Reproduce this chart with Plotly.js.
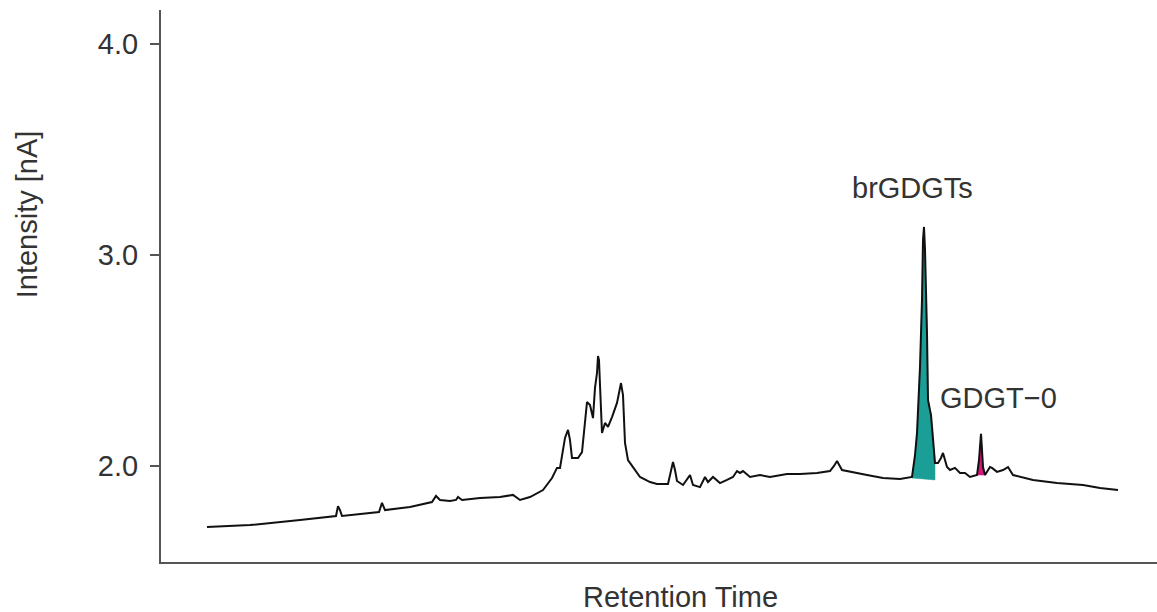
<!DOCTYPE html>
<html>
<head>
<meta charset="utf-8">
<script src="https://cdn.plot.ly/plotly-3.0.1.min.js"></script>
<style>html,body{margin:0;padding:0;background:#fff;}#chart{width:1157px;height:612px;}</style>
</head>
<body>
<div id="chart"></div>
<script>
// Retention time (arbitrary units) and intensity [nA]
var retentionTime = [4.6, 8.9, 13.9, 16.9, 17.5, 17.7, 17.9, 18.1, 19.9, 21.8, 22.1, 22.4, 24.9, 27.1, 27.5, 27.9, 28.9, 29.5, 29.7, 30.1,
  31.9, 33.9, 35.2, 35.9, 36.9, 38.2, 39.1, 39.6, 39.9, 40.2, 40.4, 40.7, 40.9, 41.1, 41.7, 42.1, 42.4, 42.6, 42.9, 43.2,
  43.4, 43.6, 43.7, 43.8, 43.9, 44.1, 44.4, 44.7, 45.1, 45.6, 46.0, 46.2, 46.4, 46.7, 47.2, 47.9, 48.9, 49.6, 50.7, 51.0,
  51.2, 51.4, 51.6, 52.2, 52.7, 52.9, 53.2, 53.9, 54.4, 54.7, 55.2, 55.9, 56.6, 57.2, 57.6, 57.9, 58.2, 58.9, 59.9, 60.9,
  62.6, 63.9, 65.6, 66.9, 67.3, 67.6, 68.1, 69.2, 70.6, 72.2, 73.9, 75.1, 75.4, 75.6, 75.9, 76.1, 76.2, 76.3, 76.4, 76.6,
  76.7, 76.9, 77.0, 77.1, 77.4, 77.7, 78.0, 78.2, 78.4, 78.6, 78.9, 79.4, 79.9, 80.4, 80.9, 81.6, 81.8, 82.0, 82.1, 82.2,
  82.4, 82.9, 83.1, 83.6, 84.2, 84.7, 85.2, 87.2, 89.6, 92.2, 93.9, 95.7];
var intensity = [1.711, 1.720, 1.744, 1.758, 1.763, 1.810, 1.791, 1.763, 1.773, 1.782, 1.825, 1.791, 1.806, 1.829, 1.858, 1.839, 1.834, 1.839, 1.853, 1.839,
  1.848, 1.853, 1.863, 1.839, 1.853, 1.886, 1.943, 1.991, 1.991, 2.076, 2.133, 2.171, 2.123, 2.038, 2.038, 2.066, 2.218, 2.303, 2.289, 2.227,
  2.370, 2.441, 2.521, 2.502, 2.384, 2.156, 2.204, 2.185, 2.232, 2.299, 2.393, 2.336, 2.109, 2.028, 1.995, 1.948, 1.924, 1.915, 1.915, 1.981,
  2.019, 1.981, 1.929, 1.910, 1.943, 1.957, 1.910, 1.900, 1.948, 1.924, 1.948, 1.919, 1.934, 1.948, 1.976, 1.967, 1.976, 1.948, 1.957, 1.948,
  1.962, 1.962, 1.967, 1.976, 2.000, 2.024, 1.981, 1.972, 1.957, 1.943, 1.938, 1.948, 2.052, 2.156, 2.469, 2.787, 3.071, 3.133, 3.024, 2.630,
  2.313, 2.265, 2.242, 2.185, 2.014, 2.014, 2.038, 2.062, 2.028, 1.995, 1.981, 1.991, 1.967, 1.967, 1.948, 1.957, 2.028, 2.152, 2.076, 1.995,
  1.957, 1.995, 1.991, 1.972, 1.981, 1.995, 1.957, 1.934, 1.919, 1.910, 1.896, 1.886];

// Integrated peak windows (retention time) and their baselines (intensity at start, end)
var brGDGTWindow = [75.1, 77.4];
var brGDGTBase = [1.943, 1.934];
var gdgt0Window = [81.6, 82.4];
var gdgt0Base = [1.957, 1.957];

// Tick values and labels
var yTickVals = [2.0, 3.0, 4.0];
var yTickText = ['2.0', '3.0', '4.0'];

function peakArea(win, base) {
  var xs = [], ys = [];
  for (var i = 0; i < retentionTime.length; i++) {
    if (retentionTime[i] >= win[0] - 1e-9 && retentionTime[i] <= win[1] + 1e-9) {
      xs.push(retentionTime[i]); ys.push(intensity[i]);
    }
  }
  xs.push(win[1]); ys.push(base[1]);
  xs.push(win[0]); ys.push(base[0]);
  return {x: xs, y: ys};
}

var teal = peakArea(brGDGTWindow, brGDGTBase);
var pink = peakArea(gdgt0Window, gdgt0Base);

var traces = [
  {x: teal.x, y: teal.y, type: 'scatter', mode: 'lines', fill: 'toself', fillcolor: '#1b9e96',
   line: {width: 0.5, color: '#1b9e96'}, hoverinfo: 'skip', showlegend: false},
  {x: pink.x, y: pink.y, type: 'scatter', mode: 'lines', fill: 'toself', fillcolor: '#d4187a',
   line: {width: 0.5, color: '#d4187a'}, hoverinfo: 'skip', showlegend: false},
  {x: retentionTime, y: intensity, type: 'scatter', mode: 'lines',
   line: {color: '#111111', width: 2}, showlegend: false}
];

var fontFam = 'Liberation Sans, Arial, sans-serif';
var labelSize = 29;
var layout = {
  width: 1157, height: 612,
  margin: {l: 161, r: 0, t: 10, b: 50},
  paper_bgcolor: '#ffffff', plot_bgcolor: '#ffffff',
  showlegend: false,
  font: {family: fontFam, color: '#333333', size: labelSize},
  xaxis: {
    range: [0, 99.6], showgrid: false, zeroline: false, showticklabels: false, ticks: '',
    showline: true, linecolor: '#555555', linewidth: 2, fixedrange: true
  },
  yaxis: {
    range: [1.545, 4.161], showgrid: false, zeroline: false,
    tickvals: yTickVals, ticktext: yTickText, ticks: 'outside', ticklen: 9, tickwidth: 2, tickcolor: '#555555',
    showline: true, linecolor: '#555555', linewidth: 2,
    tickfont: {family: fontFam, size: labelSize, color: '#333333'}, ticklabelstandoff: 6
  },
  annotations: [
    {text: 'brGDGTs', x: 75.1, y: 3.318, xref: 'x', yref: 'y', showarrow: false, xanchor: 'center', yanchor: 'middle',
     font: {family: fontFam, size: labelSize, color: '#333333'}},
    {text: 'GDGT\u22120', x: 83.7, y: 2.32, xref: 'x', yref: 'y', showarrow: false, xanchor: 'center', yanchor: 'middle',
     font: {family: fontFam, size: labelSize, color: '#333333'}},
    {text: 'Retention Time', x: 0.522, y: -0.0634, xref: 'paper', yref: 'paper', showarrow: false, xanchor: 'center', yanchor: 'middle',
     font: {family: fontFam, size: labelSize, color: '#333333'}},
    {text: 'Intensity [nA]', x: -0.1345, y: 0.63, xref: 'paper', yref: 'paper', showarrow: false, xanchor: 'center', yanchor: 'middle',
     textangle: -90, font: {family: fontFam, size: labelSize, color: '#333333'}}
  ]
};

Plotly.newPlot('chart', traces, layout, {displayModeBar: false, staticPlot: true});
</script>
</body>
</html>
